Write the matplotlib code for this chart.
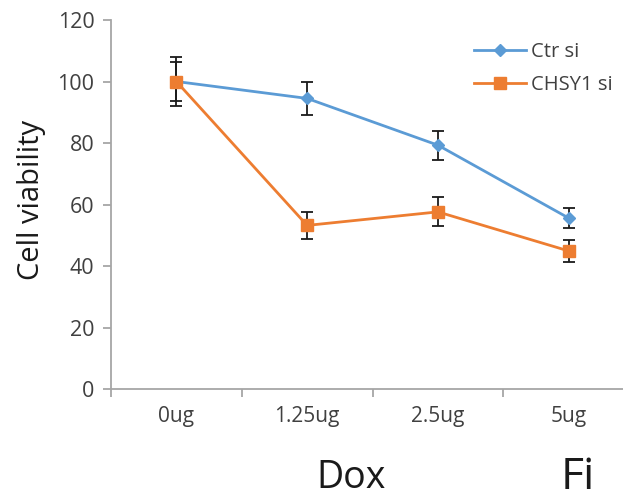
import matplotlib.pyplot as plt
from matplotlib.lines import Line2D
import numpy as np

plt.rcParams['font.family'] = ['Open Sans', 'DejaVu Sans']

doses = ["0ug", "1.25ug", "2.5ug", "5ug"]
ctr_vals = [100, 94.5, 79.3, 55.6]
ctr_err = [8, 5.5, 4.7, 3.4]
chsy_vals = [100, 53.2, 57.6, 44.9]
chsy_err = [6.5, 4.3, 4.7, 3.7]

blue = "#5B9BD5"
orange = "#ED7D31"
axis_grey = "#A6A6A6"
text_grey = "#404040"

fig = plt.figure(figsize=(6.23, 4.96), dpi=100)
# the axis runs past the right edge of the picture, as in the cropped original
ax = fig.add_axes([111/623, 107/496, 523/623, 369/496])

x = np.arange(len(doses))
ax.errorbar(x, ctr_vals, yerr=ctr_err, color=blue, lw=2, marker="D", ms=6,
            ecolor="#1a1a1a", elinewidth=1.3, capsize=4, capthick=1.3, zorder=3)
ax.errorbar(x, chsy_vals, yerr=chsy_err, color=orange, lw=2, marker="s", ms=8,
            ecolor="#1a1a1a", elinewidth=1.3, capsize=4, capthick=1.3, zorder=4)

ax.set_xlim(-0.5, len(doses) - 0.5)
ax.set_ylim(0, 120)
ax.set_yticks(range(0, 121, 20))
ax.set_xticks(x)
ax.set_xticklabels(doses)
ax.set_xticks(np.arange(-0.5, len(doses), 1.0), minor=True)

for s in ["top", "right"]:
    ax.spines[s].set_visible(False)
for s in ["left", "bottom"]:
    ax.spines[s].set_color(axis_grey)
    ax.spines[s].set_linewidth(1.3)

ax.tick_params(axis="y", direction="out", length=6, width=1.3, color=axis_grey,
               labelsize=15.5, labelcolor=text_grey, pad=6)
ax.tick_params(axis="x", which="major", length=0, labelsize=15,
               labelcolor=text_grey, pad=12)
ax.tick_params(axis="x", which="minor", direction="out", length=6, width=1.3,
               color=axis_grey)

fig.text(32/623, 1 - 200/496, "Cell viability", rotation=90, fontsize=21,
         color="#1a1a1a", ha="center", va="center")
fig.text(351/623, 1 - 478/496, "Dox", fontsize=27, color="#1a1a1a",
         ha="center", va="center")
fig.text(561/623, 1 - 478/496, "Fi", fontsize=32, color="#1a1a1a",
         ha="left", va="center")

handles = [Line2D([], [], color=blue, lw=2, marker="D", ms=6),
           Line2D([], [], color=orange, lw=2, marker="s", ms=8)]
leg = ax.legend(handles, ["Ctr si", "CHSY1 si"], loc="upper left",
                bbox_to_anchor=(345/523, 0.99), frameon=False,
                fontsize=14.5, handlelength=2.6, handletextpad=0.2,
                labelspacing=0.65)
for t in leg.get_texts():
    t.set_color(text_grey)

fig.savefig("out.png", dpi=100)
